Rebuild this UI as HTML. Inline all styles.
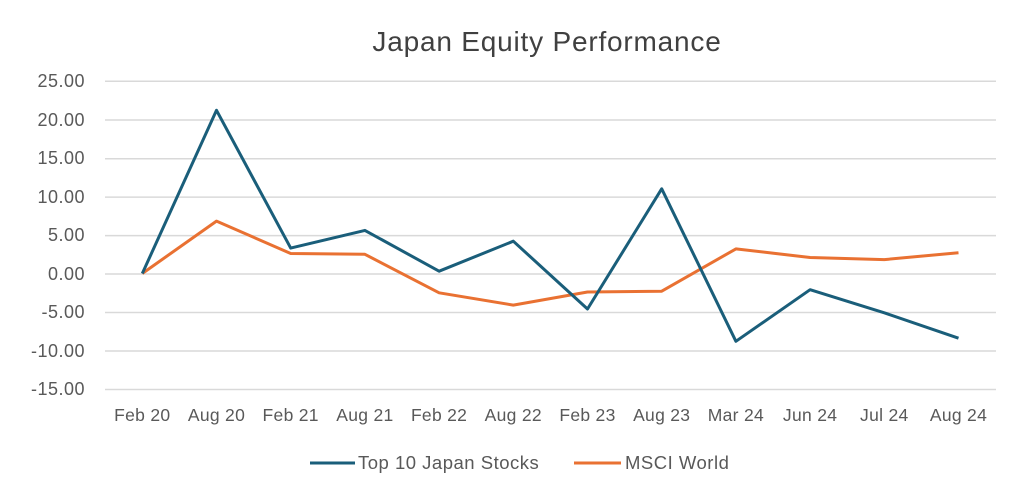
<!DOCTYPE html>
<html><head><meta charset="utf-8"><style>
html,body{margin:0;padding:0;background:#fff;}
svg{display:block;font-family:"Liberation Sans",sans-serif;}
</style></head><body>
<svg width="1024" height="502" viewBox="0 0 1024 502" xmlns="http://www.w3.org/2000/svg">
<rect width="1024" height="502" fill="#fff"/>
<text x="547" y="51" text-anchor="middle" font-size="28" letter-spacing="0.8" fill="#404040">Japan Equity Performance</text>
<g stroke="#d9d9d9" stroke-width="1.5">
<line x1="105" x2="996" y1="81.3" y2="81.3"/>
<line x1="105" x2="996" y1="120" y2="120"/>
<line x1="105" x2="996" y1="158.7" y2="158.7"/>
<line x1="105" x2="996" y1="197.1" y2="197.1"/>
<line x1="105" x2="996" y1="235.6" y2="235.6"/>
<line x1="105" x2="996" y1="274" y2="274"/>
<line x1="105" x2="996" y1="312.5" y2="312.5"/>
<line x1="105" x2="996" y1="351" y2="351"/>
<line x1="105" x2="996" y1="389.5" y2="389.5"/>
</g>
<g font-size="18" letter-spacing="0.5" fill="#595959" text-anchor="end">
<text x="85" y="87">25.00</text>
<text x="85" y="126">20.00</text>
<text x="85" y="164">15.00</text>
<text x="85" y="203">10.00</text>
<text x="85" y="241">5.00</text>
<text x="85" y="280">0.00</text>
<text x="85" y="318">-5.00</text>
<text x="85" y="357">-10.00</text>
<text x="85" y="395">-15.00</text>
</g>
<g font-size="17.5" letter-spacing="0.3" fill="#595959" text-anchor="middle">
<text x="142.3" y="421">Feb 20</text>
<text x="216.5" y="421">Aug 20</text>
<text x="290.7" y="421">Feb 21</text>
<text x="364.9" y="421">Aug 21</text>
<text x="439.1" y="421">Feb 22</text>
<text x="513.3" y="421">Aug 22</text>
<text x="587.5" y="421">Feb 23</text>
<text x="661.7" y="421">Aug 23</text>
<text x="735.9" y="421">Mar 24</text>
<text x="810.1" y="421">Jun 24</text>
<text x="884.3" y="421">Jul 24</text>
<text x="958.5" y="421">Aug 24</text>
</g>
<polyline fill="none" stroke="#e97132" stroke-width="3" stroke-linejoin="round" points="142.3,273.5 216.5,221.1 290.7,253.5 364.9,254.3 439.1,292.8 513.3,305.1 587.5,292 661.7,291.2 735.9,248.9 810.1,257.5 884.3,259.6 958.5,252.7"/>
<polyline fill="none" stroke="#1a5e7a" stroke-width="3" stroke-linejoin="round" points="142.3,273.5 216.5,110.3 290.7,248.1 364.9,230.4 439.1,271.2 513.3,241.2 587.5,309 661.7,188.8 735.9,341.3 810.1,289.7 884.3,312.8 958.5,338.2"/>
<line x1="310" x2="355" y1="463" y2="463" stroke="#1a5e7a" stroke-width="3"/>
<text x="358" y="469" font-size="18.5" letter-spacing="0.5" fill="#595959">Top 10 Japan Stocks</text>
<line x1="574" x2="621" y1="463" y2="463" stroke="#e97132" stroke-width="3"/>
<text x="625" y="469" font-size="18.5" letter-spacing="0.5" fill="#595959">MSCI World</text>
</svg>
</body></html>
